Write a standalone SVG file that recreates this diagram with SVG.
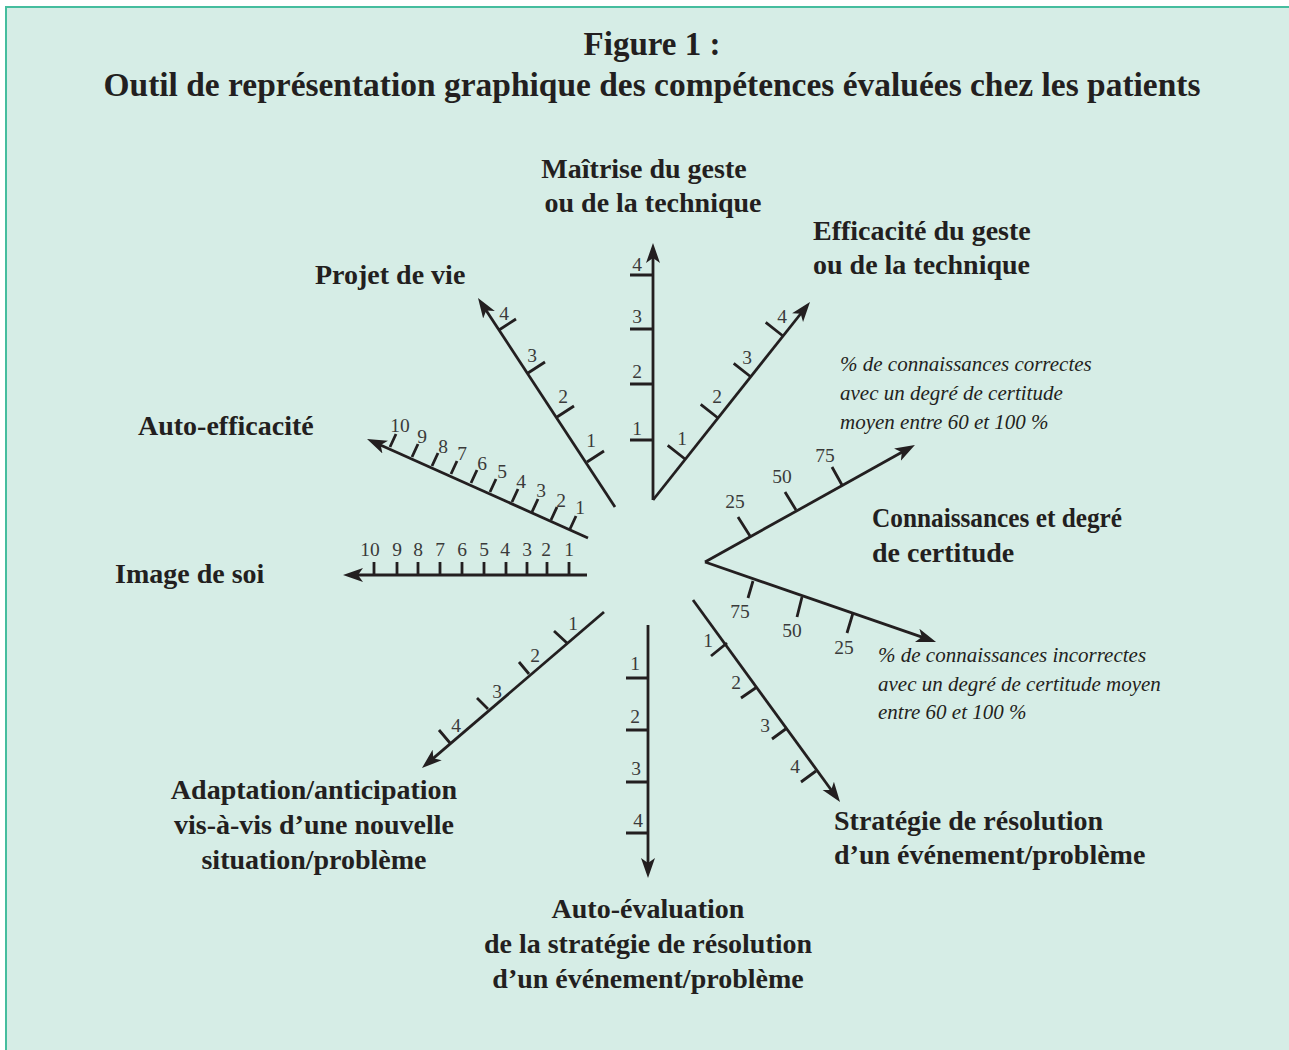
<svg xmlns="http://www.w3.org/2000/svg" width="1289" height="1050" viewBox="0 0 1289 1050">
<style>
.ax{stroke:#231f20;stroke-width:2.8;fill:none}
.tk{stroke:#231f20;stroke-width:2.8;fill:none}
.num{font-family:"Liberation Serif",serif;font-size:19.5px;fill:#3a3a3a;text-anchor:middle}
.lbl{font-family:"Liberation Serif",serif;font-weight:bold;font-size:28px;fill:#231f20}
.mid{text-anchor:middle}
.it{font-family:"Liberation Serif",serif;font-style:italic;font-size:21px;fill:#231f20}
.ttl{font-family:"Liberation Serif",serif;font-weight:bold;font-size:33px;fill:#231f20;text-anchor:middle}
</style>
<defs>
<marker id="arr" markerUnits="userSpaceOnUse" markerWidth="22" markerHeight="16" viewBox="0 -8 22 16" refX="6" refY="0" orient="auto">
<path d="M0,-7 L20,0 L0,7 L5,0 z" fill="#231f20"/>
</marker>
</defs>
<rect x="0" y="0" width="1289" height="1050" fill="#ffffff"/>
<rect x="6" y="7" width="1290" height="1050" fill="#d6ede6" stroke="#45bd9e" stroke-width="2"/>
<g id="title">
<text class="ttl" x="652" y="55">Figure 1 :</text>
<text class="ttl" x="652" y="96" textLength="1097" lengthAdjust="spacingAndGlyphs">Outil de représentation graphique des compétences évaluées chez les patients</text>
</g>
<g id="maitrise">
<line class="ax" x1="653" y1="500" x2="653" y2="257" marker-end="url(#arr)"/>
<path class="tk" d="M630,440H653M630,384H653M630,329H653M630,275H653"/>
<text class="num" x="637" y="435">1</text>
<text class="num" x="637" y="378">2</text>
<text class="num" x="637" y="323">3</text>
<text class="num" x="637" y="271">4</text>
<text class="lbl mid" x="644" y="178">Maîtrise du geste</text>
<text class="lbl mid" x="653" y="212">ou de la technique</text>
</g>
<g id="efficacite">
<line class="ax" x1="653" y1="500" x2="801.3" y2="313" marker-end="url(#arr)"/>
<path class="tk" d="M685,459L667.7,445.4M718,418L700.7,404.4M751,377L733.7,363.4M783,336L765.7,322.4"/>
<text class="num" x="682" y="445">1</text>
<text class="num" x="717" y="403">2</text>
<text class="num" x="747" y="364">3</text>
<text class="num" x="782" y="323">4</text>
<text class="lbl" x="813" y="240">Efficacité du geste</text>
<text class="lbl" x="813" y="274">ou de la technique</text>
</g>
<g id="projet">
<line class="ax" x1="615" y1="507" x2="485.7" y2="309.7" marker-end="url(#arr)"/>
<path class="tk" d="M587,462L604,451M557,417L574,406M528,373L545,362M499,330L516,319"/>
<text class="num" x="591" y="447">1</text>
<text class="num" x="563" y="403">2</text>
<text class="num" x="532" y="362">3</text>
<text class="num" x="504" y="320">4</text>
<text class="lbl" x="315" y="284">Projet de vie</text>
</g>
<g id="autoefficacite">
<line class="ax" x1="588" y1="538" x2="379.8" y2="444.7" marker-end="url(#arr)"/>
<path class="tk" d="M570,529l6,-13M551,520l6,-13M532,512l6,-13M512,502l6,-13M490,492l6,-13M471,483l6,-13M451,474l6,-13M432,466l6,-13M412,457l6,-13M390,447l6,-13"/>
<text class="num" x="580" y="514">1</text>
<text class="num" x="561" y="507">2</text>
<text class="num" x="541" y="497">3</text>
<text class="num" x="521" y="488">4</text>
<text class="num" x="502" y="478">5</text>
<text class="num" x="482" y="470">6</text>
<text class="num" x="462" y="460">7</text>
<text class="num" x="443" y="453">8</text>
<text class="num" x="422" y="443">9</text>
<text class="num" x="400" y="432">10</text>
<text class="lbl" x="138" y="435">Auto-efficacité</text>
</g>
<g id="image">
<line class="ax" x1="587" y1="575" x2="357" y2="575" marker-end="url(#arr)"/>
<path class="tk" d="M374,562V575M397,562V575M418,562V575M440,562V575M462,562V575M484,562V575M506,562V575M527,562V575M547,562V575M569,562V575"/>
<text class="num" x="370" y="556">10</text>
<text class="num" x="397" y="556">9</text>
<text class="num" x="418" y="556">8</text>
<text class="num" x="440" y="556">7</text>
<text class="num" x="462" y="556">6</text>
<text class="num" x="484" y="556">5</text>
<text class="num" x="505" y="556">4</text>
<text class="num" x="527" y="556">3</text>
<text class="num" x="546" y="556">2</text>
<text class="num" x="569" y="556">1</text>
<text class="lbl" x="115" y="583">Image de soi</text>
</g>
<g id="connaissances">
<line class="ax" x1="705" y1="562" x2="902.7" y2="451.8" marker-end="url(#arr)"/>
<line class="ax" x1="705" y1="562" x2="922.8" y2="637.4" marker-end="url(#arr)"/>
<path class="tk" d="M750,536L738,517M796,510L785,492M842,485L832,467"/>
<path class="tk" d="M753,581L748,598M802,597L797,617M853,613L847,633"/>
<text class="num" x="735" y="508">25</text>
<text class="num" x="782" y="483">50</text>
<text class="num" x="825" y="462">75</text>
<text class="num" x="740" y="618">75</text>
<text class="num" x="792" y="637">50</text>
<text class="num" x="844" y="654">25</text>
<text class="lbl" x="872" y="527" textLength="250" lengthAdjust="spacingAndGlyphs">Connaissances et degré</text>
<text class="lbl" x="872" y="562">de certitude</text>
<text class="it" x="840" y="371">% de connaissances correctes</text>
<text class="it" x="840" y="400">avec un degré de certitude</text>
<text class="it" x="840" y="429">moyen entre 60 et 100 %</text>
<text class="it" x="878" y="662">% de connaissances incorrectes</text>
<text class="it" x="878" y="691">avec un degré de certitude moyen</text>
<text class="it" x="878" y="719">entre 60 et 100 %</text>
</g>
<g id="strategie">
<line class="ax" x1="693" y1="600" x2="831.8" y2="790.7" marker-end="url(#arr)"/>
<path class="tk" d="M727,643L711,656M757,687L741,698M787,728L772,739M816,771L801,782"/>
<text class="num" x="708" y="647">1</text>
<text class="num" x="736" y="689">2</text>
<text class="num" x="765" y="732">3</text>
<text class="num" x="795" y="773">4</text>
<text class="lbl" x="834" y="830">Stratégie de résolution</text>
<text class="lbl" x="834" y="864">d’un événement/problème</text>
</g>
<g id="autoevaluation">
<line class="ax" x1="648" y1="625" x2="648" y2="864" marker-end="url(#arr)"/>
<path class="tk" d="M626,678H648M626,730H648M626,782H648M626,833H648"/>
<text class="num" x="635" y="670">1</text>
<text class="num" x="635" y="723">2</text>
<text class="num" x="636" y="775">3</text>
<text class="num" x="638" y="827">4</text>
<text class="lbl mid" x="648" y="918">Auto-évaluation</text>
<text class="lbl mid" x="648" y="953">de la stratégie de résolution</text>
<text class="lbl mid" x="648" y="988">d’un événement/problème</text>
</g>
<g id="adaptation">
<line class="ax" x1="604" y1="612" x2="432.6" y2="758.9" marker-end="url(#arr)"/>
<path class="tk" d="M567,643L554,631M529,674L519,662M488,709L477,698M450,743L439,730"/>
<text class="num" x="573" y="630">1</text>
<text class="num" x="535" y="662">2</text>
<text class="num" x="497" y="698">3</text>
<text class="num" x="456" y="732">4</text>
<text class="lbl mid" x="314" y="799">Adaptation/anticipation</text>
<text class="lbl mid" x="314" y="834">vis-à-vis d’une nouvelle</text>
<text class="lbl mid" x="314" y="869">situation/problème</text>
</g>
</svg>
